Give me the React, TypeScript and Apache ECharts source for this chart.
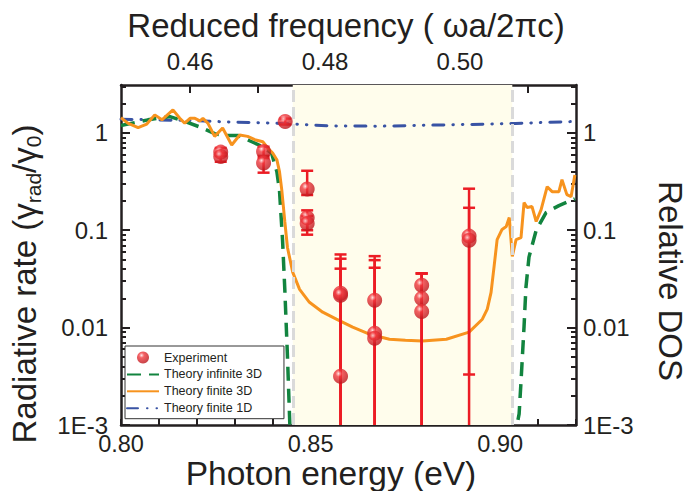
import React, { useEffect, useRef } from 'react';
import * as echarts from 'echarts';

// ---- axis ticks / labels ----
const energyTicks = [0.80, 0.81, 0.82, 0.83, 0.84, 0.85, 0.86, 0.87, 0.88, 0.89, 0.90, 0.91, 0.92];
const energyLabels = [0.80, 0.85, 0.90];
const freqTicks = [0.46, 0.47, 0.48, 0.49, 0.50, 0.51];
const freqLabels = [0.46, 0.48, 0.50];
const energyPerFreq = 1.7788; // eV per unit of reduced frequency
const rateMajorTicks = [0.001, 0.01, 0.1, 1];
const rateMinorTicks = [
  0.002, 0.003, 0.004, 0.005, 0.006, 0.007, 0.008, 0.009,
  0.02, 0.03, 0.04, 0.05, 0.06, 0.07, 0.08, 0.09,
  0.2, 0.3, 0.4, 0.5, 0.6, 0.7, 0.8, 0.9,
  2, 3,
];
const gapEdges = [0.8453, 0.9032];
const legendNames = ['Experiment', 'Theory infinite 3D', 'Theory finite 3D', 'Theory finite 1D'];

// ---- experiment ----
const expEnergy = [0.8263, 0.8263, 0.8376, 0.8376, 0.8433, 0.8491, 0.8491, 0.8491, 0.8579, 0.8579, 0.8579, 0.8669, 0.8669, 0.8669, 0.8793, 0.8793, 0.8793, 0.8918, 0.8918];
const expValue = [0.634, 0.572, 0.644, 0.49, 1.31, 0.265, 0.134, 0.117, 0.0225, 0.0215, 0.00316, 0.0191, 0.00877, 0.00779, 0.0272, 0.0199, 0.0146, 0.087, 0.079];
const expLow = [0.58, 0.505, 0.58, 0.39, 1.22, 0.23, 0.1, 0.09, 0.0001, 0.0001, 0.0001, 0.0001, 0.0001, 0.0001, 0.0001, 0.0001, 0.0001, 0.0033, 0.0001];
const expHigh = [0.7, 0.62, 0.72, 0.55, 1.4, 0.408, 0.16, 0.14, 0.0564, 0.051, 0.0403, 0.0542, 0.0493, 0.0412, 0.036, 0.036, 0.036, 0.267, 0.17];

// ---- theory infinite 3D ----
const inf3DEnergy = [0.8, 0.8071, 0.8129, 0.8168, 0.8213, 0.8247, 0.8274, 0.8308, 0.8345, 0.8374, 0.8397, 0.8411, 0.8418, 0.8426, 0.8432, 0.8439, 0.8445, 0.8449, 0.8452, 0.904, 0.9045, 0.905, 0.9055, 0.9063, 0.9068, 0.9076, 0.9095, 0.9121, 0.9155, 0.9197];
const inf3DValue = [1.19, 1.36, 1.47, 1.31, 1.13, 0.98, 0.94, 0.94, 0.81, 0.72, 0.62, 0.4, 0.255, 0.08, 0.0247, 0.0051, 0.00108, 0.0004, null, 0.0004, 0.00103, 0.0013, 0.0028, 0.0103, 0.026, 0.053, 0.1, 0.152, 0.179, 0.21];

// ---- theory finite 3D ----
const fin3DEnergy = [0.8, 0.8018, 0.8045, 0.8068, 0.8089, 0.8108, 0.8137, 0.8155, 0.8168, 0.8182, 0.8195, 0.8208, 0.8216, 0.8229, 0.8247, 0.8268, 0.8292, 0.8313, 0.8334, 0.8353, 0.8374, 0.8387, 0.84, 0.8411, 0.8418, 0.8424, 0.8432, 0.8439, 0.8453, 0.8471, 0.8497, 0.8532, 0.8568, 0.8611, 0.8655, 0.8708, 0.875, 0.8795, 0.8858, 0.8918, 0.8953, 0.8966, 0.8976, 0.8984, 0.8992, 0.9005, 0.9016, 0.9024, 0.9032, 0.9042, 0.9055, 0.9063, 0.9071, 0.9084, 0.9095, 0.9108, 0.9124, 0.9137, 0.9155, 0.9163, 0.9176, 0.9187, 0.9197];
const fin3DValue = [1.43, 1.26, 1.13, 1.23, 1.53, 1.36, 1.72, 1.41, 1.26, 1.41, 1.41, 1.33, 1.41, 1.26, 0.92, 1.12, 0.75, 0.95, 0.92, 0.85, 0.81, 0.7, 0.62, 0.53, 0.4, 0.26, 0.123, 0.0665, 0.0369, 0.0247, 0.0182, 0.0144, 0.0122, 0.0101, 0.00855, 0.0076, 0.0074, 0.0073, 0.0076, 0.009, 0.0122, 0.0155, 0.023, 0.0425, 0.08, 0.102, 0.109, 0.135, 0.054, 0.08, 0.084, 0.192, 0.171, 0.175, 0.123, 0.163, 0.28, 0.249, 0.249, 0.33, 0.232, 0.221, 0.37];

// ---- theory finite 1D ----
const fin1DEnergy = [0.8, 0.818, 0.829, 0.842, 0.855, 0.868, 0.882, 0.897, 0.904, 0.912, 0.92];
const fin1DValue = [1.38, 1.34, 1.29, 1.25, 1.18, 1.17, 1.2, 1.23, 1.25, 1.28, 1.31];

const ink = '#231f20';
const red = '#ec1c24';
const orange = '#f7931e';
const green = '#12843f';
const blue = '#3953a4';
const FONT = '"Liberation Sans", Arial, Helvetica, sans-serif';

const rateLabel = (v: number) => {
  const e = Math.round(Math.log10(v));
  if (e === -3) return '1E-3';
  if (e >= 0) return '1';
  return Math.pow(10, e).toFixed(-e);
};

export default function App() {
  const ref = useRef<HTMLDivElement>(null);
  useEffect(() => {
    document.body.style.margin = '0';
    const chart = echarts.init(ref.current!, null, { renderer: 'svg' });
    const yMin = 0.001;
    const yMax = 3.1;
    const tickLine = { color: ink, width: 2 };
    const labelStyle = { color: ink, fontSize: 24, fontFamily: FONT };
    const yAxisBase = { type: 'log', logBase: 10, min: yMin, max: yMax, splitLine: { show: false } };
    const sphere = new echarts.graphic.RadialGradient(0.38, 0.32, 0.7, [
      { offset: 0, color: '#ffe6e6' },
      { offset: 0.3, color: '#f23a3f' },
      { offset: 1, color: '#b8141a' },
    ]);
    const option: any = {
      animation: false,
      backgroundColor: '#ffffff',
      grid: { left: 121, right: 111, top: 85, bottom: 66, containLabel: false },
      xAxis: [
        {
          type: 'value', position: 'bottom', min: 0.8, max: 0.92,
          axisLine: { onZero: false, lineStyle: { color: ink, width: 2.5 } },
          axisTick: { inside: true, length: 6, lineStyle: tickLine, customValues: energyTicks },
          axisLabel: { ...labelStyle, fontSize: 23.5, lineHeight: 20, margin: 9, customValues: energyLabels, formatter: (v: number) => v.toFixed(2) },
          splitLine: { show: false },
        },
        {
          type: 'value', position: 'top', min: 0.8 / energyPerFreq, max: 0.92 / energyPerFreq,
          axisLine: { onZero: false, lineStyle: { color: ink, width: 2.5 } },
          axisTick: { inside: true, length: 8, lineStyle: tickLine, customValues: freqTicks },
          axisLabel: { ...labelStyle, lineHeight: 20, margin: 14, customValues: freqLabels, formatter: (v: number) => v.toFixed(2) },
          splitLine: { show: false },
        },
      ],
      yAxis: [
        {
          ...yAxisBase, position: 'left',
          axisLine: { show: true, onZero: false, lineStyle: { color: ink, width: 2.5 } },
          axisTick: { show: true, inside: true, length: 9, lineStyle: tickLine, customValues: rateMajorTicks },
          axisLabel: { ...labelStyle, margin: 13, customValues: rateMajorTicks, formatter: rateLabel },
        },
        {
          ...yAxisBase, position: 'left',
          axisLine: { show: false },
          axisTick: { show: true, inside: true, length: 5, lineStyle: tickLine, customValues: rateMinorTicks },
          axisLabel: { show: false },
        },
        {
          ...yAxisBase, position: 'right',
          axisLine: { show: true, onZero: false, lineStyle: { color: ink, width: 2.5 } },
          axisTick: { show: true, inside: true, length: 9, lineStyle: tickLine, customValues: rateMajorTicks },
          axisLabel: { ...labelStyle, margin: 7, customValues: rateMajorTicks, formatter: rateLabel },
        },
        {
          ...yAxisBase, position: 'right',
          axisLine: { show: false },
          axisTick: { show: true, inside: true, length: 5, lineStyle: tickLine, customValues: rateMinorTicks },
          axisLabel: { show: false },
        },
      ],
      legend: {
        data: legendNames.map((n, i) => (i === 0 ? { name: n } : { name: n, itemStyle: { opacity: 0 } })),
        orient: 'vertical', left: 125, top: 346,
        itemWidth: 32, itemHeight: 12, itemGap: 3.9,
        padding: [5, 22, 4, 1],
        borderColor: '#333', borderWidth: 1, borderRadius: 0, backgroundColor: '#fff',
        textStyle: { color: ink, fontSize: 12.5, fontFamily: FONT },
      },
      graphic: [
        {
          type: 'text', x: 346, y: 25,
          style: { text: 'Reduced frequency ( ωa/2πc)', fontSize: 33, fontFamily: FONT, fill: ink, align: 'center', verticalAlign: 'middle' },
        },
        {
          type: 'text', x: 331, y: 473,
          style: { text: 'Photon energy (eV)', fontSize: 33.5, fontFamily: FONT, fill: ink, align: 'center', verticalAlign: 'middle' },
        },
        {
          type: 'text', x: 24, y: 284, rotation: Math.PI / 2,
          style: {
            text: 'Radiative rate (γ{s|rad}/γ{s|0})', fontSize: 33, lineHeight: 40, fontFamily: FONT, fill: ink,
            align: 'center', verticalAlign: 'middle',
            rich: { s: { fontSize: 21, lineHeight: 22, verticalAlign: 'bottom', fontFamily: FONT, fill: ink } },
          },
        },
        {
          type: 'text', x: 670, y: 281, rotation: -Math.PI / 2,
          style: { text: 'Relative DOS', fontSize: 33, fontFamily: FONT, fill: ink, align: 'center', verticalAlign: 'middle' },
        },
      ],
      series: [
        {
          name: 'gap', type: 'line', data: [], z: 1, silent: true,
          markArea: {
            silent: true,
            itemStyle: { color: '#fffdec' },
            data: [[{ xAxis: gapEdges[0] }, { xAxis: gapEdges[1] }]],
          },
          markLine: {
            silent: true, symbol: 'none', precision: 4, label: { show: false },
            lineStyle: { color: '#dadada', width: 3, type: [12, 5] },
            data: gapEdges.map((e) => ({ xAxis: e })),
          },
        },
        {
          name: 'Theory finite 1D', type: 'line', z: 3, showSymbol: false, symbol: 'none',
          lineStyle: { color: blue, width: 3, type: [11, 9, 0.5, 9, 0.5, 9], cap: 'round' },
          itemStyle: { color: blue },
          data: fin1DEnergy.map((e, i) => [e, fin1DValue[i]]),
        },
        {
          name: 'Theory infinite 3D', type: 'line', z: 3, showSymbol: false, symbol: 'none',
          lineStyle: { color: green, width: 3.5, type: [14, 8] },
          itemStyle: { color: green },
          data: inf3DEnergy.map((e, i) => [e, inf3DValue[i]]),
        },
        {
          name: 'Theory finite 3D', type: 'line', z: 4, showSymbol: false, symbol: 'none',
          lineStyle: { color: orange, width: 3 },
          itemStyle: { color: orange },
          data: fin3DEnergy.map((e, i) => [e, fin3DValue[i]]),
        },
        {
          name: 'errorbars', type: 'custom', z: 5, silent: true,
          encode: { x: 0, y: [1, 2] },
          data: expEnergy.map((e, i) => [e, expLow[i], expHigh[i]]),
          renderItem: (params: any, api: any) => {
            const x = api.value(0);
            const hi = api.coord([x, api.value(2)]);
            const lo = api.coord([x, api.value(1)]);
            const cs = params.coordSys;
            const bottom = cs.y + cs.height;
            const yLo = Math.min(lo[1], bottom);
            const st = { stroke: red, lineWidth: 2.5 };
            const children: any[] = [
              { type: 'line', shape: { x1: hi[0], y1: hi[1], x2: hi[0], y2: yLo }, style: st },
              { type: 'line', shape: { x1: hi[0] - 6, y1: hi[1], x2: hi[0] + 6, y2: hi[1] }, style: st },
            ];
            if (lo[1] <= bottom) {
              children.push({ type: 'line', shape: { x1: lo[0] - 6, y1: lo[1], x2: lo[0] + 6, y2: lo[1] }, style: st });
            }
            return { type: 'group', children };
          },
        },
        {
          name: 'Experiment', type: 'scatter', z: 6, symbol: 'circle', symbolSize: 15,
          itemStyle: { color: sphere },
          data: expEnergy.map((e, i) => [e, expValue[i]]),
        },
      ],
    };
    chart.setOption(option);
    return () => chart.dispose();
  }, []);
  return <div ref={ref} style={{ position: 'absolute', left: 0, top: 0, width: 687, height: 491 }} />;
}
